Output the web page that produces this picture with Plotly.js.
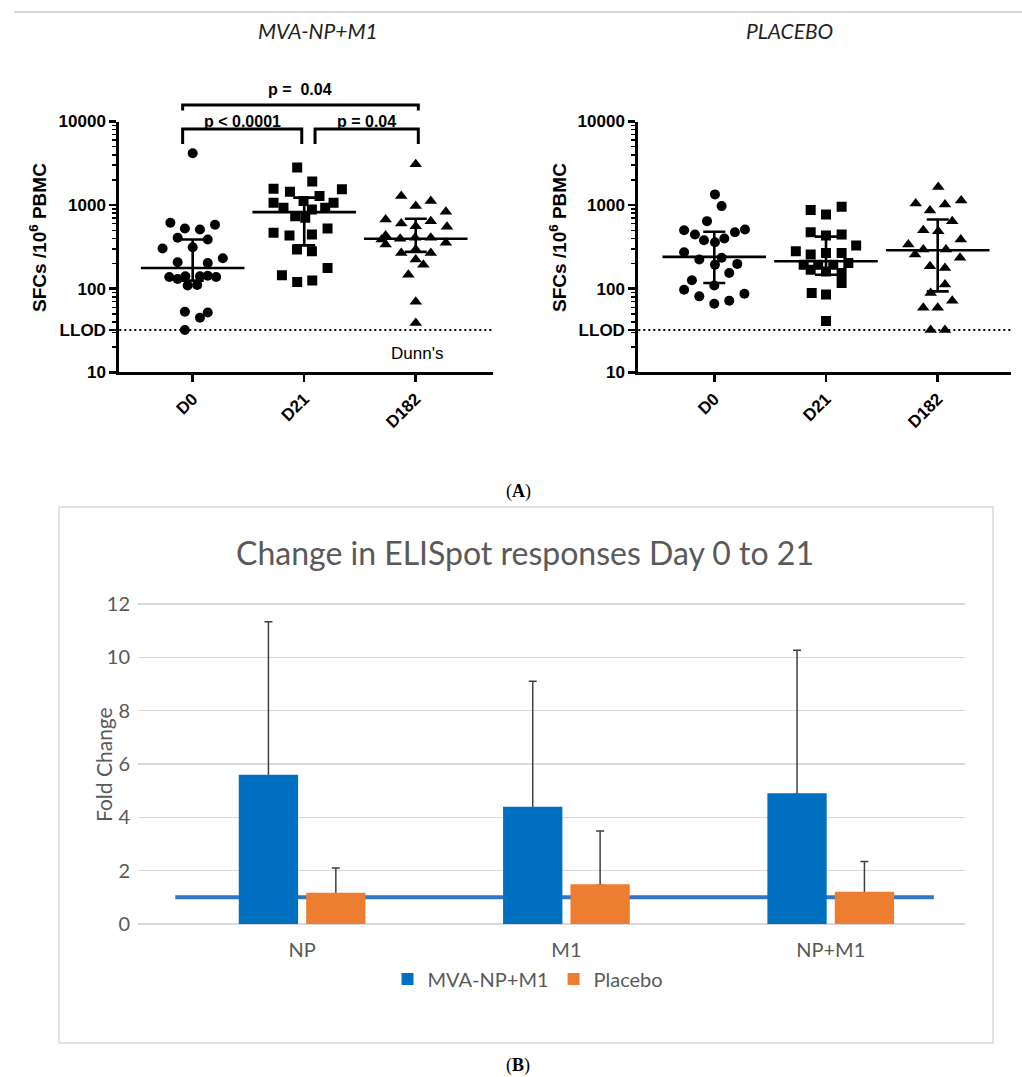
<!DOCTYPE html>
<html><head><meta charset="utf-8">
<script src="https://cdn.plot.ly/plotly-3.0.1.min.js"></script>
<style>html,body{margin:0;padding:0;background:#fff}#chart{width:1022px;height:1077px}</style>
</head><body><div id="chart"></div>
<script>
// ---------------- DATA ----------------
const days = ['D0', 'D21', 'D182'];
const llod = 32;
const yTickVals = [10, llod, 100, 1000, 10000];
const yTickText = ['10', 'LLOD', '100', '1000', '10000'];

// MVA-NP+M1 arm: horizontal jitter (category units) and SFCs / 10^6 PBMC
const mvaD0_jit = [0, -0.2, -0.07, 0.065, 0.2, -0.135, 0.135, -0.27, 0, -0.135, 0.135, 0.27, -0.21, -0.135, -0.066, 0.065, 0.135, 0.21, -0.045, 0.04, -0.07, 0.065, 0.135, -0.07];
const mvaD0 = [4170, 615, 525, 511, 582, 406, 387, 302, 313, 207, 203, 231, 138, 131, 141, 141, 143, 138, 109, 111, 53, 45, 52, 32];
const mvaD21_jit = [-0.063, 0.072, -0.275, -0.128, 0.137, 0.338, -0.275, -0.006, 0.263, -0.186, 0.069, 0.188, -0.081, 0.009, -0.275, -0.132, 0.069, 0.209, -0.065, 0.069, 0.209, -0.2, -0.063, 0.072];
const mvaD21 = [2810, 1910, 1574, 1449, 1282, 1543, 1069, 1117, 1069, 931, 888, 931, 738, 706, 466, 433, 445, 525, 294, 280, 177, 145, 120, 125];
const mvaD182_jit = [0, -0.13, 0, 0.135, -0.27, 0.27, -0.13, 0.135, 0, 0.28, -0.27, -0.305, -0.14, -0.006, 0.135, 0.27, -0.27, -0.13, 0, 0.135, 0, 0.068, -0.066, 0, 0];
const mvaD182 = [3080, 1282, 973, 1117, 673, 834, 603, 643, 560, 551, 433, 387, 395, 406, 406, 354, 338, 268, 294, 268, 223, 194, 147, 70, 39];
const mvaMedian = [177, 824, 395];
const mvaQ1 = [125, 330, 276];
const mvaQ3 = [387, 1230, 687];

// Placebo arm
const plaD0_jit = [0.006, 0.066, -0.065, -0.27, 0.275, -0.173, 0.185, -0.092, 0.006, 0.09, -0.27, -0.134, 0.066, 0.006, 0.206, 0.134, -0.2, -0.27, -0.134, 0, 0.134, 0.27, 0];
const plaD0 = [1343, 973, 643, 501, 511, 445, 474, 380, 360, 398, 273, 223, 234, 194, 198, 154, 126, 97, 81, 66, 72, 87, 109];
const plaD21_jit = [-0.137, 0, 0.14, -0.137, 0, 0.14, 0.27, -0.27, -0.137, 0, 0.14, -0.2, -0.07, 0.065, 0.2, -0.137, 0, 0.14, 0.14, -0.128, 0, 0];
const plaD21 = [871, 773, 957, 474, 433, 445, 328, 280, 256, 268, 268, 194, 194, 194, 203, 169, 161, 154, 117, 89, 85, 41];
const plaD182_jit = [0.005, -0.197, -0.069, 0.065, 0.21, 0.13, -0.129, 0.005, -0.263, -0.129, 0.074, 0.206, -0.203, -0.069, 0.065, 0.2, 0.065, -0.063, 0.13, -0.129, 0, -0.063, 0.065];
const plaD182 = [1644, 1047, 863, 1019, 1138, 643, 501, 487, 338, 294, 294, 387, 256, 185, 177, 234, 112, 89, 72, 59, 59, 32, 32];
const plaMedian = [240, 213, 288];
const plaQ1 = [117, 147, 93];
const plaQ3 = [480, 420, 673];

// Comparisons (Dunn's) for the MVA-NP+M1 arm
const pLabels = ['p < 0.0001', 'p = 0.04', 'p =  0.04'];

// Panel B: fold change day 0 to 21
const antigens = ['NP', 'M1', 'NP+M1'];
const mvaFold = [5.6, 4.4, 4.9];
const mvaFoldErr = [5.73, 4.7, 5.37];
const placeboFold = [1.17, 1.49, 1.21];
const placeboFoldErr = [0.93, 2.0, 1.13];
const baseline = 1;

// ---------------- DRAW ----------------
const W = 1022, H = 1077;
const px = v => v / W;
const py = v => 1 - v / H;
const AR = 'Liberation Sans, Arial, sans-serif';
const CAL = 'Lato, Carlito, Calibri, sans-serif';
const symbols = ['circle', 'square', 'triangle-up'];
const sizes = [10, 10, 11];

const traces = [];
function addArm(sets, med, q1, q3, xa, ya) {
  sets.forEach((s, i) => {
    traces.push({
      type: 'scatter', mode: 'markers', x: s[0].map(o => i + o), y: s[1],
      xaxis: xa, yaxis: ya, showlegend: false, hoverinfo: 'y',
      marker: { symbol: symbols[i], size: sizes[i], color: '#000' }
    });
  });
  traces.push({
    type: 'scatter', mode: 'markers', x: [0, 1, 2], y: med, xaxis: xa, yaxis: ya,
    showlegend: false, hoverinfo: 'y',
    marker: { symbol: 'line-ew', size: 74, color: '#000', line: { color: '#000', width: 2.6 } },
    error_y: { type: 'data', symmetric: false, array: q3.map((v, k) => v - med[k]),
               arrayminus: q1.map((v, k) => med[k] - v), color: '#000', thickness: 2.6, width: 11 }
  });
}
addArm([[mvaD0_jit, mvaD0], [mvaD21_jit, mvaD21], [mvaD182_jit, mvaD182]], mvaMedian, mvaQ1, mvaQ3, 'x', 'y');
addArm([[plaD0_jit, plaD0], [plaD21_jit, plaD21], [plaD182_jit, plaD182]], plaMedian, plaQ1, plaQ3, 'x2', 'y2');

// Panel B bars: a transparent twin carries the upward error bar; the real bar, drawn after, hides its foot
const hiddenFoot = antigens.map(() => 0.04);
const BLUE = '#0070c0', ORANGE = '#ed7d31';
[[mvaFold, mvaFoldErr, BLUE, 'MVA-NP+M1', 'a'], [placeboFold, placeboFoldErr, ORANGE, 'Placebo', 'b']].forEach(r => {
  traces.push({
    type: 'bar', x: antigens, y: r[0], offsetgroup: r[4], xaxis: 'x3', yaxis: 'y3',
    marker: { color: 'rgba(0,0,0,0)' }, showlegend: false, hoverinfo: 'skip',
    error_y: { type: 'data', symmetric: false, array: r[1], arrayminus: hiddenFoot, color: '#404040', thickness: 1.5, width: 4 }
  });
  traces.push({
    type: 'bar', x: antigens, y: r[0], offsetgroup: r[4], xaxis: 'x3', yaxis: 'y3',
    name: r[3], marker: { color: r[2] }
  });
});

const minorVals = [];
[10, 100, 1000].forEach(d => { for (let k = 2; k <= 9; k++) minorVals.push(k * d); });

function xTop(dom, rng, anchor) {
  return {
    domain: dom, range: rng, anchor: anchor, tickvals: [0, 1, 2], ticktext: days, tickangle: -45,
    showline: true, linewidth: 3, linecolor: '#000', ticks: 'outside', ticklen: 7, tickwidth: 2.5,
    tickcolor: '#000', showgrid: false, zeroline: false,
    tickfont: { family: AR, size: 17, color: '#000', weight: 700 }
  };
}
function yTop(anchor) {
  return {
    domain: [py(372.3), py(121.5)], type: 'log', range: [1, 4], anchor: anchor,
    tickvals: yTickVals, ticktext: yTickText, showline: true, linewidth: 3, linecolor: '#000',
    ticks: 'outside', ticklen: 7, tickwidth: 2.5, tickcolor: '#000', showgrid: false, zeroline: false,
    tickfont: { family: AR, size: 17, color: '#000', weight: 700 },
    minor: { tickvals: minorVals, ticks: 'outside', ticklen: 4, tickwidth: 1.5, tickcolor: '#000', showgrid: false }
  };
}

const shapes = [
  { type: 'line', xref: 'paper', yref: 'paper', x0: px(14), x1: 1, y0: py(12), y1: py(12), line: { color: '#c8c8c8', width: 1.5 } },
  { type: 'line', xref: 'x domain', yref: 'y', x0: 0, x1: 1, y0: llod, y1: llod, line: { color: '#000', width: 2, dash: '2px,3px' } },
  { type: 'line', xref: 'x2 domain', yref: 'y2', x0: 0, x1: 1, y0: llod, y1: llod, line: { color: '#000', width: 2, dash: '2px,3px' } },
  { type: 'rect', xref: 'paper', yref: 'paper', x0: px(59), x1: px(993), y0: py(1043), y1: py(507), line: { color: '#d9d9d9', width: 1.5 } },
  { type: 'line', xref: 'x3', yref: 'y3', x0: -0.48, x1: 2.39, y0: baseline, y1: baseline, layer: 'between', line: { color: '#2e75c6', width: 4 } }
];
// brackets: [x start, x end, y of bar (px), y of feet (px)]
const brackets = [[-0.09, 0.978, 129, 144], [1.097, 2.023, 129, 144], [-0.09, 2.023, 105, 110.5]];
const labelY = [121, 121, 90];
const annotations = [];
const ann = (o) => annotations.push(Object.assign({ showarrow: false, xanchor: 'center', yanchor: 'middle' }, o));
brackets.forEach((b, i) => {
  shapes.push({ type: 'path', xref: 'x', yref: 'paper',
    path: `M${b[0]},${py(b[3])} L${b[0]},${py(b[2])} L${b[1]},${py(b[2])} L${b[1]},${py(b[3])}`,
    line: { color: '#000', width: 3 } });
  ann({ xref: 'x', yref: 'paper', x: (b[0] + b[1]) / 2, y: py(labelY[i]), text: '<b>' + pLabels[i] + '</b>',
    font: { family: AR, size: 16, color: '#000' } });
});
ann({ xref: 'x', yref: 'paper', x: 2.01, y: py(353), text: "Dunn's", font: { family: AR, size: 17, color: '#000' } });
ann({ xref: 'paper', yref: 'paper', x: px(318), y: py(30), text: '<i>MVA-NP+M1</i>', font: { family: CAL, size: 21, color: '#222' } });
ann({ xref: 'paper', yref: 'paper', x: px(789), y: py(30), text: '<i>PLACEBO</i>', font: { family: CAL, size: 21, color: '#222' } });
ann({ xref: 'paper', yref: 'paper', x: px(38), y: py(238), text: '<b>SFCs /10<sup>6</sup> PBMC</b>', textangle: -90, font: { family: AR, size: 19, color: '#000' } });
ann({ xref: 'paper', yref: 'paper', x: px(558), y: py(238), text: '<b>SFCs /10<sup>6</sup> PBMC</b>', textangle: -90, font: { family: AR, size: 19, color: '#000' } });
ann({ xref: 'paper', yref: 'paper', x: px(518), y: py(491), text: '(<b>A</b>)', font: { family: 'Liberation Serif, Times New Roman, serif', size: 18, color: '#000' } });
ann({ xref: 'paper', yref: 'paper', x: px(518), y: py(1065), text: '(<b>B</b>)', font: { family: 'Liberation Serif, Times New Roman, serif', size: 18, color: '#000' } });
ann({ xref: 'paper', yref: 'paper', x: px(525), y: py(553), text: 'Change in ELISpot responses Day 0 to 21', font: { family: CAL, size: 32, color: '#595959' } });
ann({ xref: 'paper', yref: 'paper', x: px(103), y: py(765), text: 'Fold Change', textangle: -90, font: { family: CAL, size: 21, color: '#595959' } });

// panel B y scale: 0 at 924px, 12 at 604px; range padded a hair so the edge gridlines are kept
const yPad = 0.06, unitPx = 320 / 12;
const layout = {
  width: W, height: H, margin: { l: 0, r: 0, t: 0, b: 0 },
  paper_bgcolor: '#fff', plot_bgcolor: 'rgba(0,0,0,0)',
  showlegend: true, barmode: 'group', bargap: 0.49, bargroupgap: 0.12,
  xaxis: xTop([px(119.3), px(492.7)], [-0.658, 2.69], 'y'),
  yaxis: yTop('x'),
  xaxis2: xTop([px(638.3), px(1011)], [-0.68, 2.656], 'y2'),
  yaxis2: yTop('x2'),
  xaxis3: { domain: [px(138), px(965)], range: [-0.621, 2.508], anchor: 'y3', type: 'category', showline: false, ticks: '', showgrid: false,
            zeroline: false, tickfont: { family: CAL, size: 20, color: '#595959' }, ticklabelstandoff: 10 },
  yaxis3: { domain: [py(924 + yPad * unitPx), py(604 - yPad * unitPx)], anchor: 'x3', range: [-yPad, 12 + yPad], dtick: 2, tick0: 0, showgrid: true,
            gridcolor: '#d9d9d9', gridwidth: 1.3, zeroline: false,
            showline: false, ticks: '', tickfont: { family: CAL, size: 20, color: '#595959' }, ticklabelstandoff: 7 },
  legend: { orientation: 'h', x: px(528), xanchor: 'center', y: py(979), yanchor: 'middle',
            font: { family: CAL, size: 20, color: '#595959' }, itemwidth: 30, bgcolor: 'rgba(0,0,0,0)' },
  shapes: shapes, annotations: annotations
};

Plotly.newPlot('chart', traces, layout, { displayModeBar: false, staticPlot: true });
</script></body></html>
